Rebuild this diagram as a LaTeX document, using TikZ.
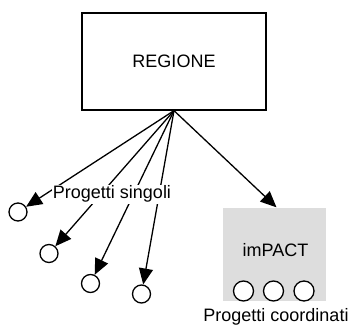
\documentclass[tikz,border=0pt]{standalone}
\usepackage{fontspec}
\setmainfont{Liberation Sans}
\usepackage{tikz}
\usetikzlibrary{arrows.meta}
\definecolor{boxgray}{RGB}{221,221,221}
\tikzset{
    proj/.style={shape=circle, draw=black, fill=white, minimum size=18pt, inner sep=0pt},
    link/.style={-{Triangle[length=16pt, width=14pt]}}}

\begin{document}
\begin{tikzpicture}[x=1pt, y=-1pt, line width=1.3pt, font=\fontsize{18}{21}\selectfont]
        \useasboundingbox (0,0) rectangle (349,326);

            \node[shape=rectangle, draw=black, minimum width=184pt, minimum height=97pt] (R) at (174,61.5) {REGIONE};

            \node[proj] (P1) at (18,212) {};
            \node[proj] (P2) at (49,253.5) {};
            \node[proj] (P3) at (90.5,283.5) {};
            \node[proj] (P4) at (141.5,294) {};

            \node[shape=rectangle, fill=boxgray, minimum width=103pt, minimum height=93pt] (I) at (274.5,254.5) {};
            \node[anchor=base] (IT) at (275.5,257) {imPACT};
            \node[proj, minimum size=20pt] (Q1) at (243.5,291) {};
            \node[proj, minimum size=20pt] (Q2) at (273.5,291) {};
            \node[proj, minimum size=20pt] (Q3) at (304,291) {};
            \node[anchor=base] (C) at (276,322) {Progetti coordinati};

            \draw[link] (R.south) -- (P1);
            \draw[link] (R.south) -- (P2);
            \draw[link] (R.south) -- (P3);
            \draw[link] (R.south) -- (P4);
            \draw[link] (R.south) -- ([xshift=2pt]I.north);

            \node[anchor=base, fill=white, inner sep=1pt] (S) at (112,199) {Progetti singoli};

        \end{tikzpicture}
\end{document}
